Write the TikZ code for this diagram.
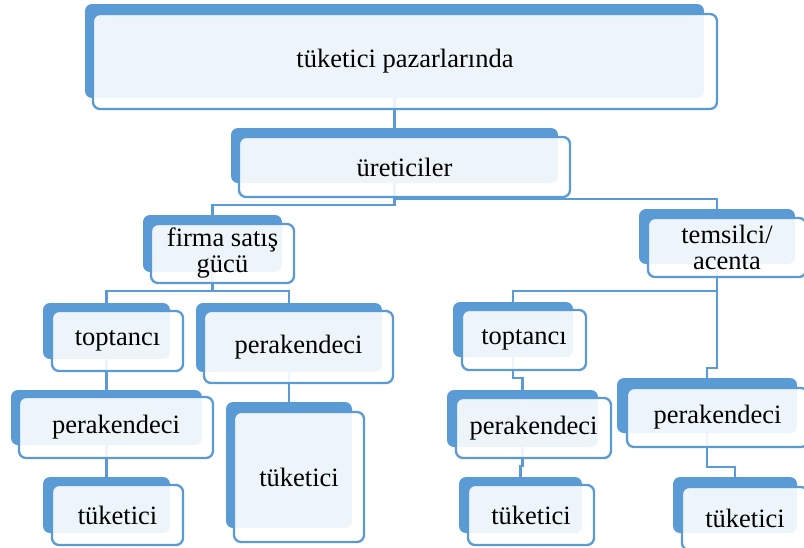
\documentclass[tikz,border=0pt]{standalone}
\usepackage{fontspec}
\setmainfont{Liberation Serif}
\usetikzlibrary{fit}
\definecolor{accent}{HTML}{5B9BD5}
\pgfdeclarelayer{links}
\pgfsetlayers{links,main}
\tikzset{
  backpanel/.style={fill=accent, draw=none, rounded corners=7pt, inner sep=0pt, outer sep=0pt},
  frontpanel/.style={fill=white, fill opacity=0.9, draw=accent, line width=2.3pt,
                     rounded corners=7pt, inner sep=0pt, outer sep=0pt},
  boxtext/.style={font=\fontsize{26.5}{26}\selectfont, align=center, inner sep=0pt, text=black},
  link/.style={draw=accent, line width=2.3pt}
}
% #1 name, #2 corners of the solid back panel, #3 corners of the framed front panel, #4 text
\newcommand\tierbox[4]{%
  \node[backpanel, fit={#2}] (#1) {};
  \node[frontpanel, fit={#3}] (#1-f) {};
  \node[boxtext] (#1-t) at (#1-f.center) {#4};
}
\begin{document}
\begin{tikzpicture}[x=1pt, y=-1pt]
  \useasboundingbox (0,0) rectangle (804,547);
  \clip (0,0) rectangle (804,547);

  % boxes
  \tierbox{n-top}{(85,4) (704,98)}{(93,14) (717,109)}{tüketici pazarlarında}
  \tierbox{n-ure}{(231,128) (558,183)}{(239,137) (570,197)}{üreticiler}
  \tierbox{n-firma}{(143,215) (282,272)}{(151,224) (294,283)}{firma satış\\gücü}
  \tierbox{n-tems}{(639,209) (795,264)}{(648,218) (806,277)}{temsilci/\\acenta}
  \tierbox{n-topL}{(43,303) (170,359)}{(52,311) (183,371)}{toptancı}
  \tierbox{n-perM}{(196,303) (382,372)}{(204,311) (393,383)}{perakendeci}
  \tierbox{n-perL}{(11,390) (202,445)}{(19,397) (213,458)}{perakendeci}
  \tierbox{n-tukL}{(43,477) (170,533)}{(52,485) (183,545)}{tüketici}
  \tierbox{n-tukM}{(226,402) (352,528)}{(234,412) (364,542)}{tüketici}
  \tierbox{n-topR}{(453,302) (573,357)}{(462,310) (586,370)}{toptancı}
  \tierbox{n-perRL}{(447,390) (598,447)}{(456,398) (611,458)}{perakendeci}
  \tierbox{n-tukRL}{(459,477) (582,533)}{(468,485) (594,545)}{tüketici}
  \tierbox{n-perR}{(617,378) (797,433)}{(627,388) (808,447)}{perakendeci}
  \tierbox{n-tukR}{(673,477) (797,533)}{(682,487) (808,550)}{tüketici}

  % bus levels of the elbow connectors
  \coordinate (lvA) at (0,205);
  \coordinate (lvB) at (0,199);
  \coordinate (lvC) at (0,291);
  \coordinate (lvD) at (0,291);
  \coordinate (lvE) at (0,368);
  \coordinate (lvF) at (0,378);
  \coordinate (lvG) at (0,466);
  \coordinate (lvH) at (0,467);

  % connectors, kept underneath the boxes
  \begin{pgfonlayer}{links}
    \draw[link] (n-top.south) -- (n-ure.north);
    \draw[link] (n-ure.south) -- (n-ure.south |- lvA) -| (n-firma.north);
    \draw[link] (n-ure.south) -- (n-ure.south |- lvB) -| (n-tems.north);
    \draw[link] (n-firma.south) -- (n-firma.south |- lvC) -| (n-topL.north);
    \draw[link] (n-firma.south) -- (n-firma.south |- lvC) -| (n-perM.north);
    \draw[link] (n-topL.south) -- (n-perL.north);
    \draw[link] (n-perL.south) -- (n-tukL.north);
    \draw[link] (n-perM.south) -- (n-tukM.north);
    \draw[link] (n-tems.south) -- (n-tems.south |- lvD) -| (n-topR.north);
    \draw[link] (n-tems.south) -- (n-tems.south |- lvE) -| (n-perR.north);
    \draw[link] (n-topR.south) -- (n-topR.south |- lvF) -| (n-perRL.north);
    \draw[link] (n-perRL.south) -- (n-perRL.south |- lvG) -| (n-tukRL.north);
    \draw[link] (n-perR.south) -- (n-perR.south |- lvH) -| (n-tukR.north);
  \end{pgfonlayer}
\end{tikzpicture}
\end{document}
